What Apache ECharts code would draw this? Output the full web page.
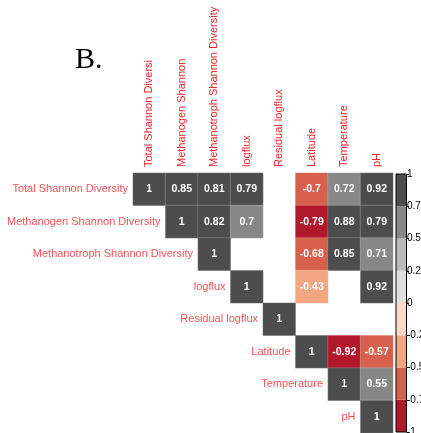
<!DOCTYPE html>
<html>
<head>
<meta charset="utf-8">
<style>
  html, body { margin: 0; padding: 0; background: #fff; }
  #chart { width: 421px; height: 433px; }
</style>
<script src="https://cdn.jsdelivr.net/npm/echarts@6/dist/echarts.min.js"></script>
</head>
<body>
<div id="chart"></div>
<script>
// Variables of the correlation matrix (row labels sit beside the diagonal)
const rowNames = ['Total Shannon Diversity', 'Methanogen Shannon Diversity', 'Methanotroph Shannon Diversity',
  'logflux', 'Residual logflux', 'Latitude', 'Temperature', 'pH'];
// Column labels as printed along the top
const colNames = ['Total Shannon Diversi', 'Methanogen Shannon', 'Methanotroph Shannon Diversity',
  'logflux', 'Residual logflux', 'Latitude', 'Temperature', 'pH'];

// Upper-triangle correlations, one array per row; null = not significant (left blank)
const rowTotal        = [1, 0.85, 0.81, 0.79, null, -0.7, 0.72, 0.92];
const rowMethanogen   = [null, 1, 0.82, 0.7, null, -0.79, 0.88, 0.79];
const rowMethanotroph = [null, null, 1, null, null, -0.68, 0.85, 0.71];
const rowLogflux      = [null, null, null, 1, null, -0.43, null, 0.92];
const rowResidual     = [null, null, null, null, 1, null, null, null];
const rowLatitude     = [null, null, null, null, null, 1, -0.92, -0.57];
const rowTemperature  = [null, null, null, null, null, null, 1, 0.55];
const rowPH           = [null, null, null, null, null, null, null, 1];

// Colour scale bins (RdGy) and colour-bar ticks
const binBreaks = [-1, -0.75, -0.5, -0.25, 0, 0.25, 0.5, 0.75, 1];
const binColors = ['#b2182b', '#d6604d', '#f4a582', '#fddbc7', '#e0e0e0', '#bababa', '#878787', '#4d4d4d'];
const barTickLabels = ['-1', '-0.75', '-0.5', '-0.25', '0', '0.25', '0.5', '0.75', '1'];

const matrix = [rowTotal, rowMethanogen, rowMethanotroph, rowLogflux, rowResidual, rowLatitude, rowTemperature, rowPH];

const cellData = [];
matrix.forEach((row, r) => {
  row.forEach((v, c) => {
    if (v !== null) cellData.push([c, r, v]);
  });
});

const pieces = binColors.map((color, i) => {
  const p = { gte: binBreaks[i], color: color };
  if (i === binColors.length - 1) p.lte = binBreaks[i + 1]; else p.lt = binBreaks[i + 1];
  return p;
});

const binData = binColors.map((color, i) => [binBreaks[i], binBreaks[i + 1], i]);

const labelRed = '#f5262b';
const chart = echarts.init(document.getElementById('chart'), null, { renderer: 'canvas' });

chart.setOption({
  animation: false,
  backgroundColor: '#ffffff',
  textStyle: { fontFamily: '"Liberation Sans", Arial, sans-serif' },
  graphic: [{
    type: 'text',
    style: {
      x: 75, y: 45,
      text: 'B.',
      font: '30px "Liberation Serif", "Times New Roman", serif',
      fill: '#000',
      textBaseline: 'alphabetic'
    }
  }],
  grid: [
    { left: 133, top: 173, width: 260, height: 260, containLabel: false, outerBoundsMode: 'none' },
    { left: 396, top: 174, width: 10.5, height: 258, containLabel: false, outerBoundsMode: 'none' }
  ],
  xAxis: [
    {
      type: 'category', gridIndex: 0, position: 'top',
      data: colNames,
      axisLine: { show: false }, axisTick: { show: false }, splitLine: { show: false },
      axisLabel: { rotate: -90, color: labelRed, fontSize: 11, margin: 6, interval: 0 }
    },
    { type: 'category', gridIndex: 1, data: ['scale'], show: false }
  ],
  yAxis: [
    {
      type: 'category', gridIndex: 0, inverse: true,
      data: rowNames, show: false
    },
    {
      type: 'value', gridIndex: 1, position: 'right',
      min: -1, max: 1, interval: 0.25,
      axisLine: { show: false },
      axisTick: { show: true, length: 2.5, lineStyle: { color: '#000' } },
      splitLine: { show: false },
      axisLabel: {
        color: '#000', fontSize: 10, margin: 0.5, showMinLabel: true, showMaxLabel: true,
        formatter: (v) => barTickLabels[Math.round((v + 1) / 0.25)]
      }
    }
  ],
  visualMap: {
    type: 'piecewise', show: false, seriesIndex: 0, dimension: 2, pieces: pieces
  },
  series: [
    {
      type: 'heatmap', xAxisIndex: 0, yAxisIndex: 0,
      data: cellData,
      silent: true,
      label: {
        show: true, color: '#fff', fontSize: 10.5, fontWeight: 'bold',
        formatter: (p) => String(p.value[2])
      },
      itemStyle: { borderColor: 'rgba(255,255,255,0.35)', borderWidth: 0.5 }
    },
    {
      // invisible diagonal markers carrying the row labels
      type: 'scatter', xAxisIndex: 0, yAxisIndex: 0, silent: true,
      symbol: 'rect', symbolSize: [32.5, 32.5],
      itemStyle: { color: 'rgba(0,0,0,0)' },
      data: rowNames.map((n, i) => [i, i, n]),
      label: {
        show: true, position: 'left', distance: 5,
        color: labelRed, fontSize: 11,
        formatter: (p) => p.value[2]
      }
    },
    {
      // colour bar fill
      type: 'custom', xAxisIndex: 1, yAxisIndex: 1, silent: true,
      data: binData,
      renderItem: (params, api) => {
        const lo = api.coord([0, api.value(0)]);
        const hi = api.coord([0, api.value(1)]);
        const w = api.size([1, 0])[0];
        return {
          type: 'rect',
          shape: { x: lo[0] - w / 2, y: hi[1], width: w, height: lo[1] - hi[1] },
          style: { fill: binColors[api.value(2)] }
        };
      }
    },
    {
      // colour bar frame
      type: 'custom', xAxisIndex: 1, yAxisIndex: 1, silent: true, z: 5,
      data: [[binBreaks[0], binBreaks[binBreaks.length - 1]]],
      renderItem: (params, api) => {
        const lo = api.coord([0, api.value(0)]);
        const hi = api.coord([0, api.value(1)]);
        const w = api.size([1, 0])[0];
        return {
          type: 'rect',
          shape: { x: lo[0] - w / 2, y: hi[1], width: w, height: lo[1] - hi[1] },
          style: { fill: 'none', stroke: '#000', lineWidth: 1 }
        };
      }
    }
  ]
});
</script>
</body>
</html>
